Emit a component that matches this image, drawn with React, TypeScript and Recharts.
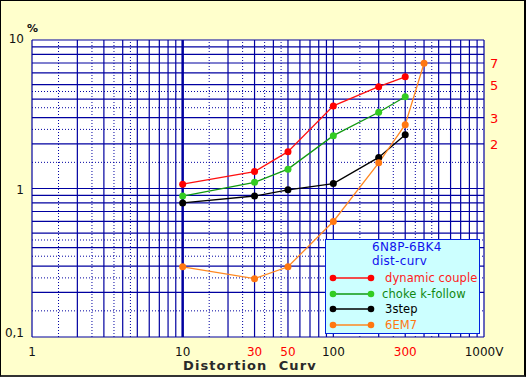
import React from 'react';
import { LineChart, Line, XAxis, YAxis, ReferenceLine, ReferenceArea } from 'recharts';

// ---- data ----
const voltages = [10, 30, 50, 100, 200, 300];
const voltages6EM7 = [10, 30, 50, 100, 200, 300, 400];
const dynamicCouple = [1.07, 1.3, 1.77, 3.6, 4.85, 5.65];
const chokeKFollow = [0.89, 1.1, 1.35, 2.27, 3.26, 4.15];
const threeStep = [0.8, 0.89, 0.98, 1.08, 1.62, 2.3];
const em7 = [0.297, 0.247, 0.297, 0.6, 1.49, 2.69, 6.97];

const xTicks = [1, 10, 30, 50, 100, 300, 1000];
const xTickLabels = ['1', '10', '30', '50', '100', '300', '1000V'];
const xTickRed = [30, 50, 300];
const topTicks = [400];
const leftTicks = [0.1, 1, 10];
const leftTickLabels = ['0,1', '1', '10'];
const rightTicks = [2, 3, 5, 7];

const gridMult = [1, 2, 3, 4, 5, 6, 7, 8, 9];
const gridMinorMult = [1.5, 2.5, 3.5, 4.5];
const xDecades = [1, 10, 100];
const yDecades = [0.1, 1];

const legendTitle = ['6N8P-6BK4', 'dist-curv'];

const series = [
  { name: 'dynamic couple', line: '#FF1010', dot: '#FF0000', text: '#FF2020', xs: voltages, ys: dynamicCouple },
  { name: 'choke k-follow', line: '#119911', dot: '#33CC22', text: '#118811', xs: voltages, ys: chokeKFollow },
  { name: '3step', line: '#000000', dot: '#000000', text: '#000000', xs: voltages, ys: threeStep },
  { name: '6EM7', line: '#FF8822', dot: '#FF7711', text: '#FF7711', xs: voltages6EM7, ys: em7 },
];

const GRID = '#0000A0';
const FONT = '"DejaVu Sans", sans-serif';

const xMajor = [...xDecades.flatMap((d) => gridMult.map((m) => d * m)), 1000];
const xMinor = xDecades.flatMap((d) => gridMinorMult.map((m) => d * m));
const yMajor = [...yDecades.flatMap((d) => gridMult.map((m) => d * m)), 10];
const yMinor = yDecades.flatMap((d) => gridMinorMult.map((m) => d * m));

const XTick = (props: any) => {
  const { x, y, payload } = props;
  const idx = xTicks.indexOf(payload.value);
  const red = xTickRed.includes(payload.value);
  return (
    <text x={x} y={y + 19} textAnchor="middle" fontFamily={FONT} fontSize={12} fill={red ? '#FF0000' : '#111'}>
      {xTickLabels[idx]}
    </text>
  );
};

const TopTick = (props: any) => {
  const { x, y, payload } = props;
  return (
    <text x={x} y={y - 4} textAnchor="middle" fontFamily={FONT} fontSize={12.5} fill="#FF0000">
      {payload.value}
    </text>
  );
};

const LeftTick = (props: any) => {
  const { x, y, payload } = props;
  const idx = leftTicks.indexOf(payload.value);
  const dy = payload.value === 0.1 ? 0 : payload.value === 1 ? 5 : 3;
  return (
    <g>
      <text x={x - 8} y={y + dy} textAnchor="end" fontFamily={FONT} fontSize={12} fill="#111">
        {leftTickLabels[idx]}
      </text>
      {payload.value === 10 ? (
        <text x={x - 5} y={y - 8} textAnchor="start" fontFamily={FONT} fontSize={11} fontWeight="bold" fill="#111">
          %
        </text>
      ) : null}
    </g>
  );
};

const RightTick = (props: any) => {
  const { x, y, payload } = props;
  return (
    <text x={x + 6} y={y + 5} textAnchor="start" fontFamily={FONT} fontSize={13} fill="#FF0000">
      {payload.value}
    </text>
  );
};

export default function App() {
  return (
    <div style={{ position: 'absolute', left: 0, top: 0, width: 526, height: 377, background: '#FFFFCC', overflow: 'hidden' }}>
      <LineChart width={526} height={377} margin={{ top: 39, right: 41, bottom: 39, left: 31 }}>
        <XAxis
          dataKey="x"
          type="number"
          scale="log"
          domain={[1, 1000]}
          ticks={xTicks}
          interval={0}
          allowDataOverflow
          height={1}
          tickSize={0}
          tickMargin={0}
          axisLine={false}
          tickLine={false}
          tick={<XTick />}
        />
        <XAxis
          xAxisId="top"
          orientation="top"
          type="number"
          scale="log"
          domain={[1, 1000]}
          ticks={topTicks}
          interval={0}
          allowDataOverflow
          height={1}
          tickSize={0}
          tickMargin={0}
          axisLine={false}
          tickLine={false}
          tick={<TopTick />}
        />
        <YAxis
          type="number"
          scale="log"
          domain={[0.1, 10]}
          ticks={leftTicks}
          interval={0}
          allowDataOverflow
          width={1}
          tickSize={0}
          tickMargin={0}
          axisLine={false}
          tickLine={false}
          tick={<LeftTick />}
        />
        <YAxis
          yAxisId="right"
          orientation="right"
          type="number"
          scale="log"
          domain={[0.1, 10]}
          ticks={rightTicks}
          interval={0}
          allowDataOverflow
          width={1}
          tickSize={0}
          tickMargin={0}
          axisLine={false}
          tickLine={false}
          tick={<RightTick />}
        />
        <ReferenceArea x1={1} x2={1000} y1={0.1} y2={10} fill="#FFFFFF" fillOpacity={1} stroke="none" />
        {xMinor.map((v) => (
          <ReferenceLine key={'xm' + v} x={v} stroke={GRID} strokeWidth={1} strokeDasharray="1 2" />
        ))}
        {yMinor.map((v) => (
          <ReferenceLine key={'ym' + v} y={v} stroke={GRID} strokeWidth={1} strokeDasharray="1 2" />
        ))}
        {xMajor.map((v) => (
          <ReferenceLine key={'x' + v} x={v} stroke={GRID} strokeWidth={v === 10 ? 2.5 : 1.2} />
        ))}
        {yMajor.map((v) => (
          <ReferenceLine key={'y' + v} y={v} stroke={GRID} strokeWidth={1.2} />
        ))}
        {series.map((s) => (
          <Line
            key={s.name}
            name={s.name}
            data={s.xs.map((x, i) => ({ x, y: s.ys[i] }))}
            dataKey="y"
            type="linear"
            stroke={s.line}
            strokeWidth={1.3}
            dot={{ r: 3.5, fill: s.dot, stroke: s.dot, strokeWidth: 0 }}
            isAnimationActive={false}
          />
        ))}
      </LineChart>

      {/* legend */}
      <div
        style={{
          position: 'absolute',
          left: 325,
          top: 239,
          width: 155,
          height: 95,
          boxSizing: 'border-box',
          background: '#CCFFFF',
          border: '1px solid #0022DD',
          fontFamily: FONT,
        }}
      >
        <div style={{ position: 'absolute', left: 46, top: 0, fontSize: 12, color: '#1111EE', whiteSpace: 'nowrap', lineHeight: '14px', letterSpacing: 0.3 }}>
          {legendTitle[0]}
        </div>
        <div style={{ position: 'absolute', left: 46, top: 14, fontSize: 12, color: '#1111EE', whiteSpace: 'nowrap', lineHeight: '14px', letterSpacing: 0.3 }}>
          {legendTitle[1]}
        </div>
        {series.map((s, i) => {
          const top = [31, 47, 62, 78][i];
          return (
            <div key={s.name} style={{ position: 'absolute', left: 0, top, width: 153, height: 14 }}>
              <svg width={50} height={14} style={{ position: 'absolute', left: 3, top: 0 }}>
                <line x1={4} y1={7} x2={42} y2={7} stroke={s.line} strokeWidth={1.3} />
                <circle cx={4} cy={7} r={3.3} fill={s.dot} />
                <circle cx={42} cy={7} r={3.3} fill={s.dot} />
              </svg>
              <span
                style={{
                  position: 'absolute',
                  left: i === 1 ? 56 : 59,
                  top: 0,
                  fontSize: 11.5,
                  lineHeight: '14px',
                  color: s.text,
                  whiteSpace: 'nowrap',
                  letterSpacing: 0.1,
                }}
              >
                {s.name}
              </span>
            </div>
          );
        })}
      </div>

      {/* x title */}
      <div
        style={{
          position: 'absolute',
          left: 183,
          top: 359,
          fontFamily: FONT,
          fontSize: 13,
          fontWeight: 'bold',
          letterSpacing: 1.1,
          color: '#2a2a2a',
          whiteSpace: 'pre',
          lineHeight: '13px',
        }}
      >
        {'Distortion  Curv'}
      </div>

      {/* frame */}
      <div
        style={{
          position: 'absolute',
          left: 0,
          top: 0,
          width: 526,
          height: 377,
          boxSizing: 'border-box',
          borderTop: '1px solid #000',
          borderLeft: '1px solid #000',
          borderRight: '2px solid #000',
          borderBottom: '2px solid #333',
          pointerEvents: 'none',
        }}
      />
    </div>
  );
}
